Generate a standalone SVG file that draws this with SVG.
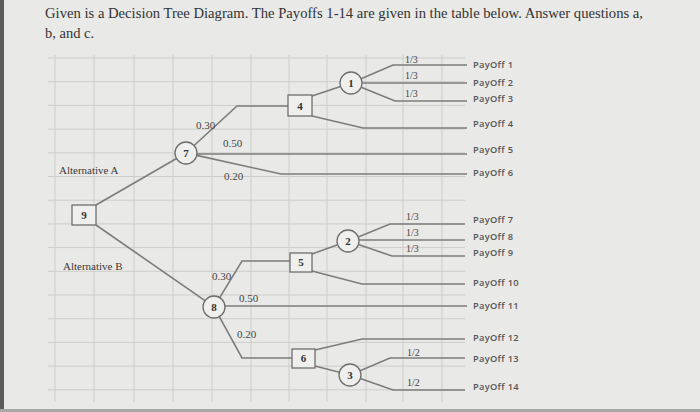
<svg xmlns="http://www.w3.org/2000/svg" width="700" height="412" viewBox="0 0 700 412">
<style>
.grid line{stroke:#cdcdcb;stroke-width:1}
.conn path{fill:none;stroke:#7c7c7c;stroke-width:1.6}
.node rect,.node circle{fill:#efefed;stroke:#6e6e6e;stroke-width:1.3}
.nl{font-family:"Liberation Serif",serif;font-weight:bold;font-size:11px;fill:#333;text-anchor:middle}
.pr{font-family:"Liberation Serif",serif;font-size:11px;fill:#444}
.fr{font-family:"Liberation Serif",serif;font-size:10px;fill:#444}
.po{font-family:"Open Sans","Liberation Sans",sans-serif;font-size:9.3px;font-weight:600;fill:#555;letter-spacing:0.3px}
.alt{font-family:"Liberation Serif",serif;font-size:11px;fill:#3a3a3a}
.title{font-family:"Liberation Serif",serif;font-size:14.5px;fill:#333}
</style>
<rect x="0" y="0" width="700" height="412" fill="#e9e9e7"/>
<rect x="0" y="0" width="4" height="412" fill="#5c5c5c"/>
<rect x="0" y="409" width="700" height="3" fill="#a8a8a6"/>
<text class="title" x="45" y="18" textLength="598" lengthAdjust="spacingAndGlyphs">Given is a Decision Tree Diagram. The Payoffs 1-14 are given in the table below. Answer questions a,</text>
<text class="title" x="45" y="38">b, and c.</text>
<g class="grid">
<line x1="55" y1="55" x2="55" y2="402"/><line x1="94" y1="55" x2="94" y2="402"/><line x1="134" y1="55" x2="134" y2="402"/><line x1="173" y1="55" x2="173" y2="402"/><line x1="212" y1="55" x2="212" y2="402"/><line x1="251" y1="55" x2="251" y2="402"/><line x1="289" y1="55" x2="289" y2="402"/><line x1="327" y1="55" x2="327" y2="402"/><line x1="366" y1="55" x2="366" y2="402"/><line x1="403" y1="55" x2="403" y2="402"/><line x1="442" y1="55" x2="442" y2="402"/>
<line x1="48" y1="58" x2="465" y2="58"/><line x1="48" y1="81.7" x2="465" y2="81.7"/><line x1="48" y1="105.4" x2="465" y2="105.4"/><line x1="48" y1="129.1" x2="465" y2="129.1"/><line x1="48" y1="152.8" x2="465" y2="152.8"/><line x1="48" y1="176.5" x2="465" y2="176.5"/><line x1="48" y1="200.2" x2="465" y2="200.2"/><line x1="48" y1="223.9" x2="465" y2="223.9"/><line x1="48" y1="247.6" x2="465" y2="247.6"/><line x1="48" y1="271.3" x2="465" y2="271.3"/><line x1="48" y1="295" x2="465" y2="295"/><line x1="48" y1="318.7" x2="465" y2="318.7"/><line x1="48" y1="342.4" x2="465" y2="342.4"/><line x1="48" y1="366.1" x2="465" y2="366.1"/><line x1="48" y1="389.8" x2="465" y2="389.8"/>
</g>
<g id="connectors" class="conn">
<path d="M96,205 L176.5,158.5"/>
<path d="M96,225 L205,300.7"/>
<path d="M194.1,145.5 L237,106 L288,106"/>
<path d="M197,154 L467,154"/>
<path d="M196.7,155.4 L281,174 L467,174"/>
<path d="M312,96 L340.6,86.5"/>
<path d="M312,116 L363,128 L467,128"/>
<path d="M361.1,78.7 L393,65 L467,65"/>
<path d="M362,83 L467,83"/>
<path d="M361.2,87.2 L395,101 L467,101"/>
<path d="M219.7,297.6 L242,261 L290,261"/>
<path d="M225,306 L467,306"/>
<path d="M219.3,316.6 L242,358 L292,358"/>
<path d="M312,254 L337.7,244.7"/>
<path d="M312,271 L362,284 L465,284"/>
<path d="M358.2,236.9 L390,224 L465,224"/>
<path d="M359,240 L465,240"/>
<path d="M358.4,244.6 L392,256 L465,256"/>
<path d="M315,350 L362,339 L465,339"/>
<path d="M315,366 L339.4,372.3"/>
<path d="M360.1,370.7 L390,358 L465,358"/>
<path d="M360.4,378.6 L393,390 L465,390"/>
</g>
<g id="node9" class="node"><rect x="72" y="205" width="24" height="20"/><text class="nl" x="84" y="219">9</text></g>
<g id="node7" class="node"><circle cx="186" cy="153" r="11"/><text class="nl" x="186" y="157">7</text></g>
<g id="node4" class="node"><rect x="288" y="95" width="24" height="21"/><text class="nl" x="300" y="109.5">4</text></g>
<g id="node1" class="node"><circle cx="351" cy="83" r="11"/><text class="nl" x="351" y="87">1</text></g>
<g id="node8" class="node"><circle cx="214" cy="307" r="11"/><text class="nl" x="214" y="311">8</text></g>
<g id="node5" class="node"><rect x="290" y="253" width="22" height="19"/><text class="nl" x="301" y="266">5</text></g>
<g id="node2" class="node"><circle cx="348" cy="241" r="11"/><text class="nl" x="348" y="245">2</text></g>
<g id="node6" class="node"><rect x="292" y="349" width="23" height="19"/><text class="nl" x="303.5" y="362">6</text></g>
<g id="node3" class="node"><circle cx="350" cy="375" r="11"/><text class="nl" x="350" y="379">3</text></g>
<g id="labels">
<text class="alt" x="59" y="174">Alternative A</text>
<text class="alt" x="63" y="270">Alternative B</text>
<text class="pr" x="196" y="129">0.30</text>
<text class="pr" x="223" y="147">0.50</text>
<text class="pr" x="224" y="180">0.20</text>
<text class="pr" x="212" y="280">0.30</text>
<text class="pr" x="239" y="302">0.50</text>
<text class="pr" x="237" y="338">0.20</text>
<text class="fr" x="405" y="63">1/3</text>
<text class="fr" x="405" y="79">1/3</text>
<text class="fr" x="405" y="97">1/3</text>
<text class="fr" x="406" y="220">1/3</text>
<text class="fr" x="406" y="236">1/3</text>
<text class="fr" x="406" y="252">1/3</text>
<text class="fr" x="407" y="356">1/2</text>
<text class="fr" x="407" y="386">1/2</text>
<text class="po" x="473" y="68">PayOff 1</text>
<text class="po" x="473" y="86">PayOff 2</text>
<text class="po" x="473" y="102">PayOff 3</text>
<text class="po" x="473" y="127">PayOff 4</text>
<text class="po" x="473" y="153">PayOff 5</text>
<text class="po" x="473" y="176">PayOff 6</text>
<text class="po" x="473" y="223">PayOff 7</text>
<text class="po" x="473" y="240">PayOff 8</text>
<text class="po" x="473" y="256">PayOff 9</text>
<text class="po" x="473" y="286">PayOff 10</text>
<text class="po" x="473" y="309">PayOff 11</text>
<text class="po" x="473" y="341">PayOff 12</text>
<text class="po" x="473" y="362">PayOff 13</text>
<text class="po" x="473" y="390">PayOff 14</text>
</g>
</svg>
